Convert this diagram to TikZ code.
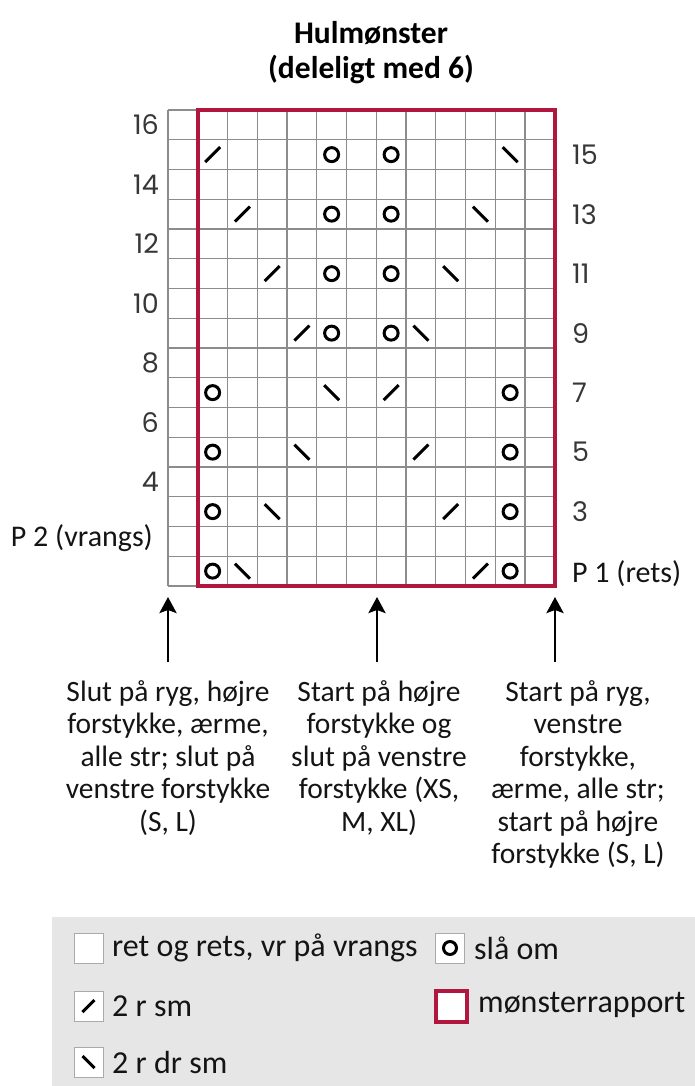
\documentclass[tikz,border=0pt]{standalone}
\usepackage{fontspec}
\setmainfont{Carlito}
\newfontfamily\numfont{Poppins}
\usetikzlibrary{arrows.meta}
\definecolor{repred}{RGB}{176,22,62}
\definecolor{gridgray}{RGB}{140,140,140}
\definecolor{leggray}{RGB}{230,230,230}
\definecolor{numgray}{RGB}{55,55,55}
\definecolor{txt}{RGB}{20,20,20}
\definecolor{boxgray}{RGB}{170,170,170}
\newcommand\yo[2]{\draw[yosym] ({197.75+(#1-0.5)*29.75},{586-(#2-0.5)*29.75}) circle[radius=7];}
\newcommand\kl[2]{\draw[decsym] ({197.75+(#1-0.5)*29.75-7.5},{586-(#2-0.5)*29.75+7.5}) -- ++(15,-15);}
\newcommand\kr[2]{\draw[decsym] ({197.75+(#1-0.5)*29.75-7.5},{586-(#2-0.5)*29.75-7.5}) -- ++(15,15);}
\begin{document}
\begin{tikzpicture}[x=1pt,y=-1pt,
  gridline/.style={draw=gridgray,line width=1.4pt},
  repbox/.style={draw=repred,line width=4pt},
  yosym/.style={draw=black,line width=3pt},
  decsym/.style={draw=black,line width=3pt},
  numlbl/.style={font=\numfont\fontsize{27}{30}\selectfont,text=numgray,inner sep=0pt},
  rowlbl/.style={font=\fontsize{30}{34}\selectfont,text=txt,inner sep=0pt},
  blocktxt/.style={font=\fontsize{29.5}{32.5}\selectfont,text=txt,align=center,inner sep=0pt,anchor=north},
  titletxt/.style={font=\bfseries\fontsize{31.5}{35}\selectfont,text=black,align=center,inner sep=0pt,anchor=north},
  uparrow/.style={draw=black,line width=2.8pt,-{Stealth[length=16pt,width=17pt,inset=3pt]}},
  legbox/.style={draw=boxgray,line width=1pt,fill=white,minimum width=29pt,minimum height=30pt,inner sep=0pt},
  legtxt/.style={font=\fontsize{32}{35}\selectfont,text=txt,inner sep=0pt,anchor=west},
  legrep/.style={draw=repred,line width=4pt,fill=white,minimum size=31pt,inner sep=0pt}
]
\useasboundingbox (0,0) rectangle (695,1086);
\fill[white] (0,0) rectangle (695,1086);

% title
\node[titletxt] (title) at (371,21) {Hulmønster\\(deleligt med 6)};

% grid
\foreach \i in {0,...,13}{\draw[gridline] ({168+\i*29.75},110) -- ({168+\i*29.75},586);}
\foreach \j in {0,...,16}{\draw[gridline] (168,{110+\j*29.75}) -- (554.75,{110+\j*29.75});}
\draw[repbox] (197.75,110) rectangle (554.75,586);

% symbols
\kl{1}{15} \yo{5}{15} \yo{7}{15} \kr{11}{15}
\kl{2}{13} \yo{5}{13} \yo{7}{13} \kr{10}{13}
\kl{3}{11} \yo{5}{11} \yo{7}{11} \kr{9}{11}
\kl{4}{9}  \yo{5}{9}  \yo{7}{9}  \kr{8}{9}
\yo{1}{7} \kr{5}{7} \kl{7}{7} \yo{11}{7}
\yo{1}{5} \kr{4}{5} \kl{8}{5} \yo{11}{5}
\yo{1}{3} \kr{3}{3} \kl{9}{3} \yo{11}{3}
\yo{1}{1} \kr{2}{1} \kl{10}{1} \yo{11}{1}

% row labels
\foreach \r in {16,14,...,4}{\node[numlbl,anchor=east] (L\r) at (159,{586-(\r-0.5)*29.75}) {\r};}
\node[rowlbl,anchor=east] (L2) at (153,{586-1.5*29.75-3}) {P 2 (vrangs)};
\foreach \r in {15,13,...,3}{\node[numlbl,anchor=west] (R\r) at (572,{586-(\r-0.5)*29.75}) {\r};}
\node[rowlbl,anchor=west] (R1) at (572,{586-0.5*29.75+2}) {P 1 (rets)};

% arrows
\coordinate (a1s) at (168,662); \coordinate (a1e) at (168,597);
\coordinate (a2s) at (377,662); \coordinate (a2e) at (377,597);
\coordinate (a3s) at (555,662); \coordinate (a3e) at (555,597);
\draw[uparrow] (a1s) -- (a1e);
\draw[uparrow] (a2s) -- (a2e);
\draw[uparrow] (a3s) -- (a3e);

% explanation texts
\node[blocktxt] (b1) at (168,680) {Slut på ryg, højre\\forstykke, ærme,\\alle str; slut på\\venstre forstykke\\(S, L)};
\node[blocktxt] (b2) at (379,680) {Start på højre\\forstykke og\\slut på venstre\\forstykke (XS,\\M, XL)};
\node[blocktxt] (b3) at (578,680) {Start på ryg,\\venstre\\forstykke,\\ærme, alle str;\\start på højre\\forstykke (S, L)};

% legend
\fill[leggray] (52,917) rectangle (695,1086);
\node[legbox] (lb1) at (88.5,948) {};
\node[legtxt] (lt1) at (112,948) {ret og rets, vr på vrangs};
\node[legbox] (lb2) at (450,948) {};
\draw[yosym] (lb2.center) circle[radius=6.5];
\node[legtxt] (lt2) at (474,948) {slå om};
\node[legbox] (lb3) at (88.5,1006) {};
\draw[decsym] (lb3.center) ++(-6,6) -- ++(12,-12);
\node[legtxt] (lt3) at (112,1006) {2 r sm};
\node[legrep] (lb4) at (451,1006) {};
\node[legtxt] (lt4) at (478,1005) {mønsterrapport};
\node[legbox] (lb5) at (88.5,1062) {};
\draw[decsym] (lb5.center) ++(-6,-6) -- ++(12,12);
\node[legtxt] (lt5) at (112,1062) {2 r dr sm};
\end{tikzpicture}
\end{document}
